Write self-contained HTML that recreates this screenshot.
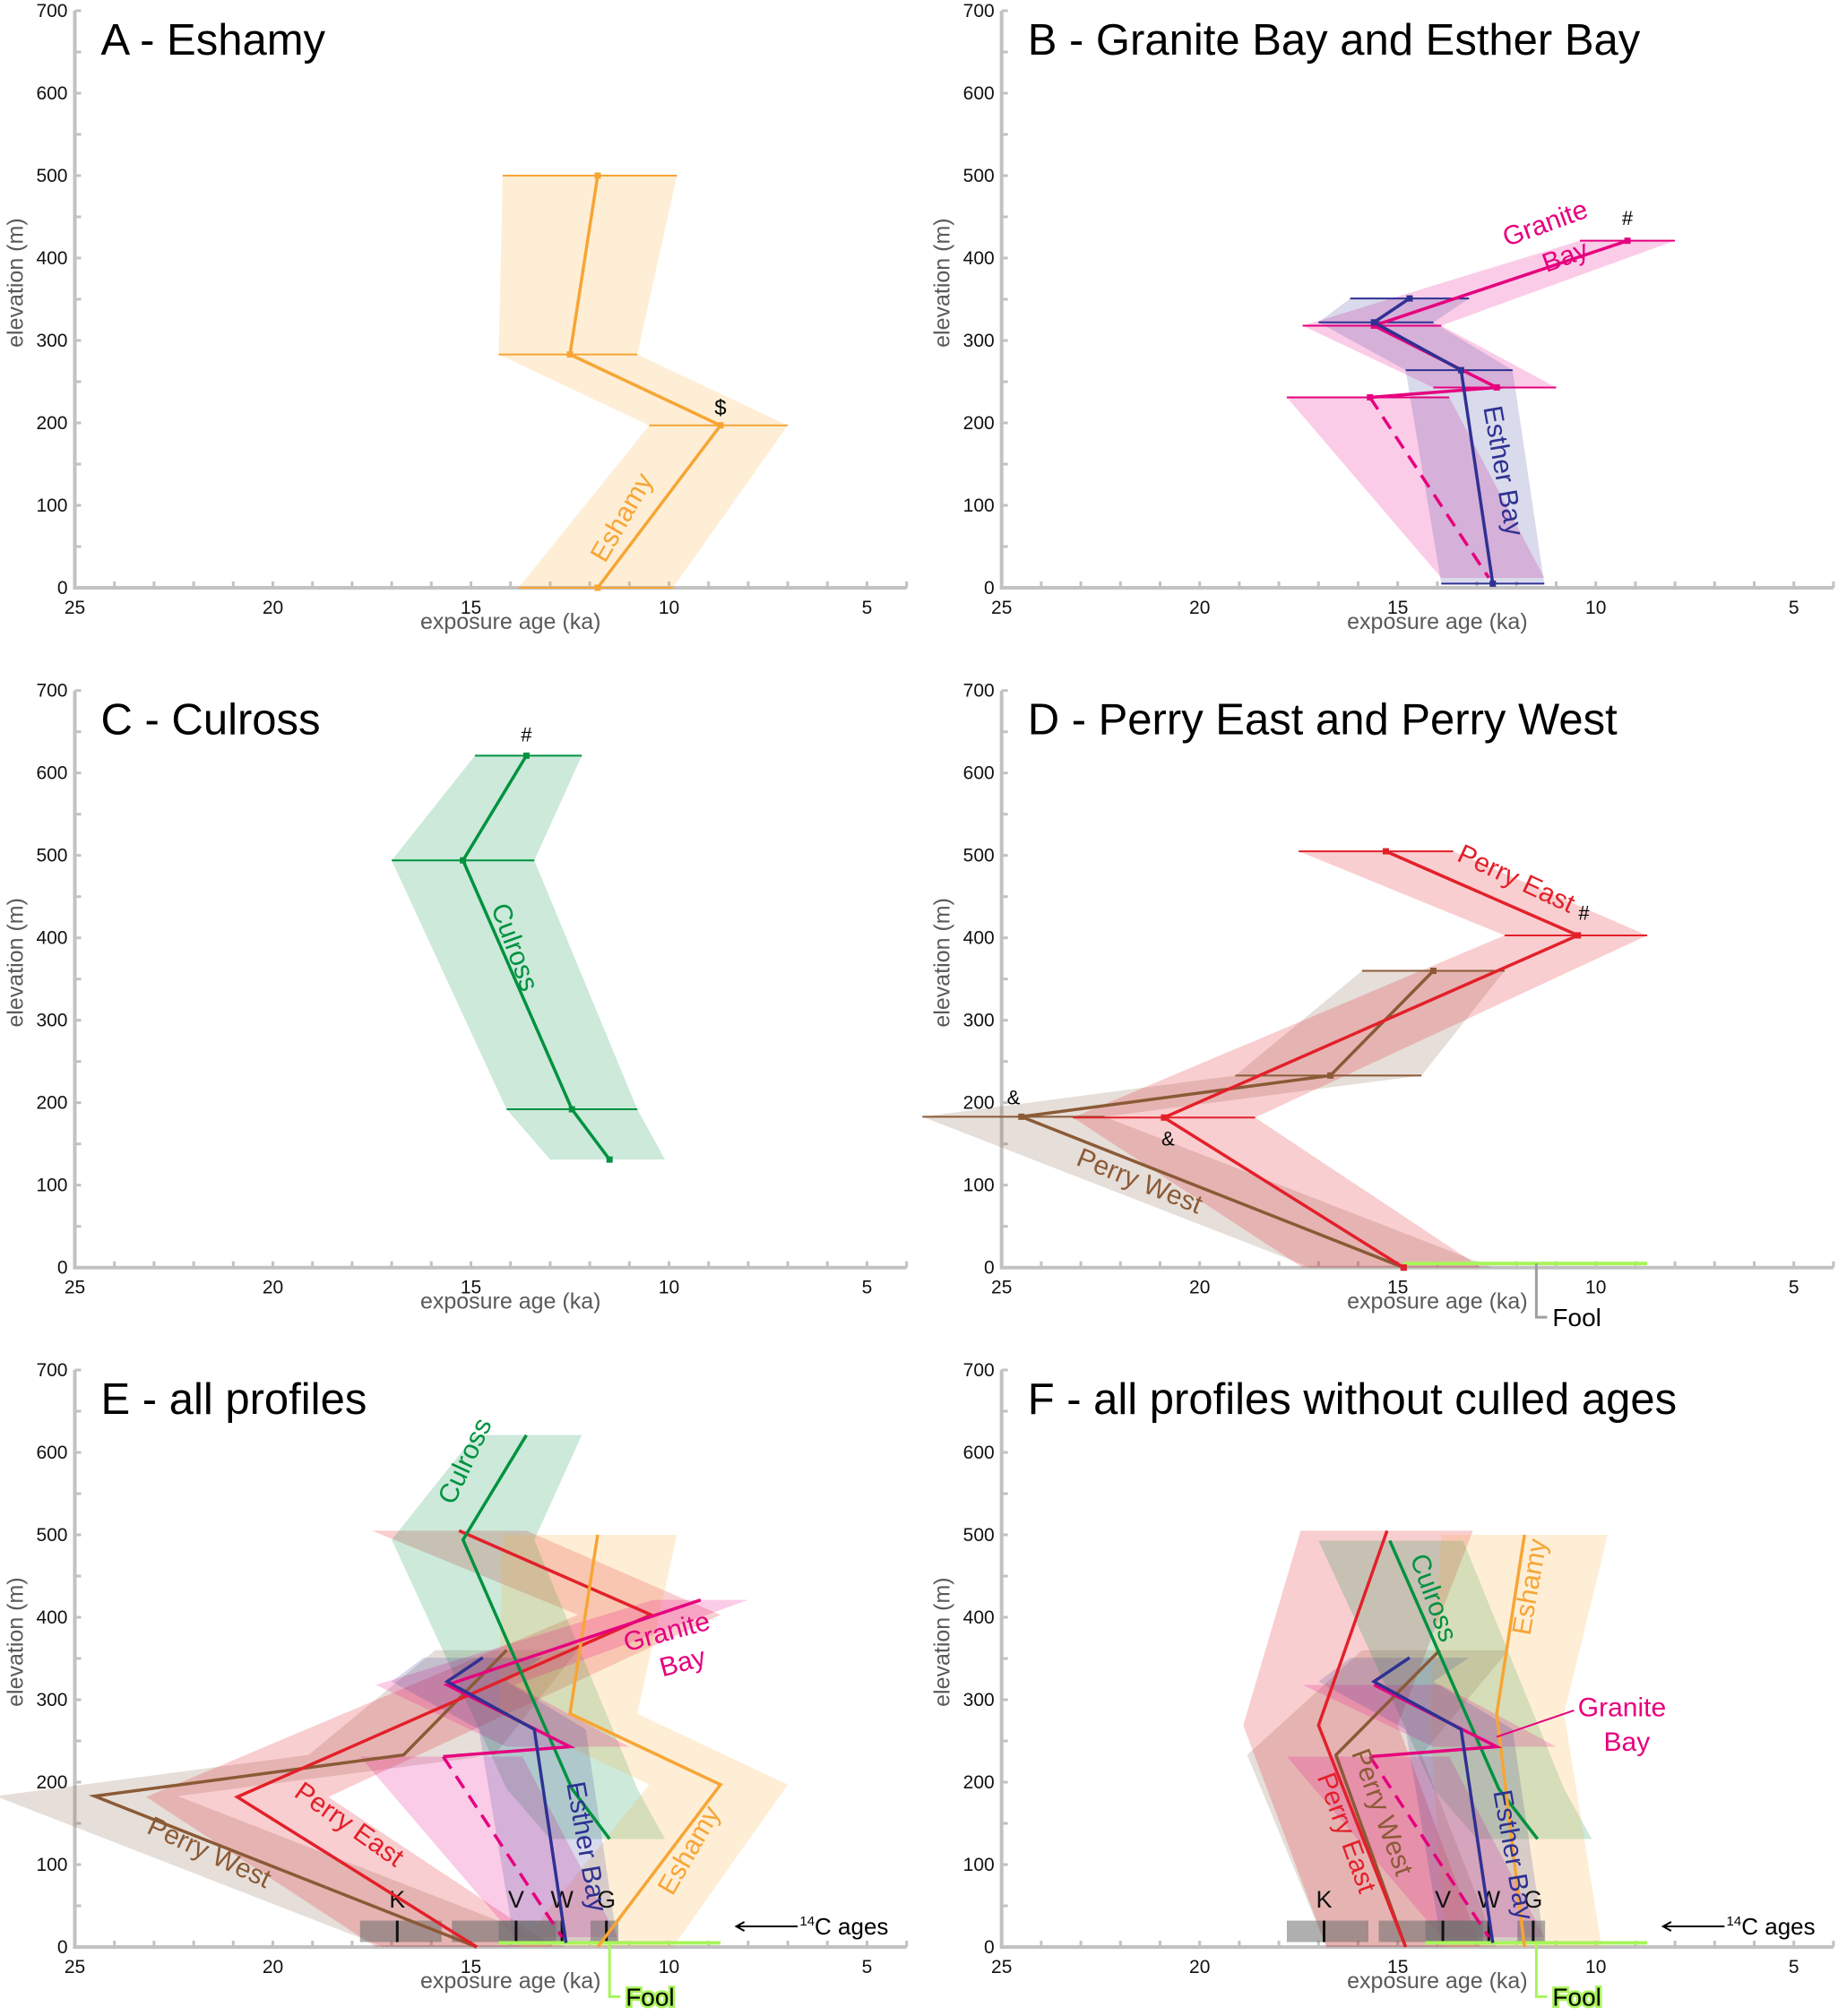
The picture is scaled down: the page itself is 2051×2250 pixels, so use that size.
<!DOCTYPE html>
<html><head><meta charset="utf-8">
<style>
html,body{margin:0;padding:0;background:#fff;}
svg{display:block;font-family:"Liberation Sans",sans-serif;}
</style></head>
<body>
<svg id="chart" width="2051" height="2250" viewBox="0 0 2051 2250" xmlns="http://www.w3.org/2000/svg"></svg>
<script>
// ---- data (age in ka, elevation in m) ----
const ESH_AGE=[11.8,12.5,8.7,11.8];
const ESH_ELEV=[500,283,197,0];
const ESH_LO=[14.2,14.3,10.5,13.8];
const ESH_HI=[9.8,10.8,7.0,9.9];

const GB_AGE=[9.2,15.6,12.5,15.7];
const GB_ELEV=[421,318,243,231];
const GB_LO=[10.4,17.4,14.1,17.8];
const GB_HI=[8.0,13.9,11.0,13.7];
const GBL_AGE=[15.7,12.7];
const GBL_ELEV=[231,12];
const GBL_LO=[17.8,13.9];
const GBL_HI=[13.7,11.3];

const ES_AGE=[14.7,15.6,13.4,12.6];
const ES_ELEV=[351,322,264,5];
const ES_LO=[16.2,17.0,14.8,13.9];
const ES_HI=[13.2,14.1,12.1,11.3];

const CU_AGE=[13.6,15.2,12.45,11.5];
const CU_ELEV=[621,494,192,131];
const CU_LO=[14.9,17.0,14.1,13.0];
const CU_HI=[12.2,13.4,10.8,10.1];

const PE_AGE=[15.3,10.45,20.9,14.85];
const PE_ELEV=[505,403,182,0];
const PE_LO=[17.5,12.3,23.2,17.4];
const PE_HI=[13.6,8.7,18.6,12.9];

const PW_AGE=[14.1,16.7,24.5,14.85];
const PW_ELEV=[360,233,183,0];
const PW_LO=[15.9,19.1,27.0,17.2];
const PW_HI=[12.3,14.4,22.4,12.6];

// culled versions (panel F)
const PEF_AGE=[15.27,17.0,14.8];
const PEF_ELEV=[505,269,0];
const PEF_LO=[17.45,18.9,16.8];
const PEF_HI=[13.1,15.0,12.9];
const PWF_AGE=[13.94,16.56,14.8];
const PWF_ELEV=[360,233,0];
const PWF_LO=[15.9,18.8,16.8];
const PWF_HI=[12.2,14.4,12.5];
const CUF_AGE=[15.2,12.45,11.47];
const CUF_ELEV=[493,192,131];
const CUF_LO=[17.0,14.1,13.0];
const CUF_HI=[13.35,10.8,10.1];
const ESHF_AGE=[11.8,12.5,11.8];
const ESHF_ELEV=[500,283,0];
const ESHF_LO=[13.9,14.2,13.8];
const ESHF_HI=[9.7,10.8,9.85];
const GBF_AGE=[15.6,12.5,15.7];
const GBF_ELEV=[318,243,231];
const GBF_LO=[17.4,14.1,17.8];
const GBF_HI=[13.9,11.0,13.7];

const FOOL_RANGE_D=[14.85,8.7];
const FOOL_RANGE_EF=[14.3,8.7];
const FOOL_AGE=11.5;
const FOOL_ELEV=5;

const C14_LO=[17.8,15.48,14.3,11.98];
const C14_HI=[15.74,12.85,12.7,11.28];
const C14_AGE=[16.86,13.86,12.7,11.58];
const C14_LABELS=['K','V','W','G'];
const C14_ELEV=[6,32];

const X_TICK_LABELS=[25,20,15,10,5];
const Y_TICK_LABELS=[0,100,200,300,400,500,600,700];
const TITLES=['A - Eshamy','B - Granite Bay and Esther Bay','C - Culross','D - Perry East and Perry West','E - all profiles','F - all profiles without culled ages'];

// ---- layout ----
const OX=[83.5,1117.7], OY=[656,1414.7,2173];
const KX=44.2, KY=0.92;
function X(p,a){return OX[p%2]+(25-a)*KX;}
function Y(p,e){return OY[Math.floor(p/2)]-e*KY;}
const svg=document.getElementById('chart');
const NS='http://www.w3.org/2000/svg';
function mk(tag,attrs,parent){const e=document.createElementNS(NS,tag);for(const k in attrs)e.setAttribute(k,attrs[k]);(parent||svg).appendChild(e);return e;}
function txt(p,str,a,e,size,color,rot,anchor,extra){
  const x=X(p,a),y=Y(p,e);
  const t=mk('text',Object.assign({x:x,y:y,'font-size':size,fill:color,'text-anchor':anchor||'middle',transform:rot?`rotate(${rot} ${x} ${y})`:''},extra||{}));
  t.textContent=str;return t;
}

const COL={esh:'#f7a535',gb:'#e6007e',es:'#2e3192',cu:'#00923f',pe:'#e3202a',pw:'#8b5a36',fool:'#a8f55a'};
const FILL={esh:'rgba(249,178,70,0.22)',gb:'rgba(236,0,140,0.2)',es:'rgba(46,49,146,0.18)',cu:'rgba(0,146,69,0.2)',pe:'rgba(227,32,42,0.22)',pw:'rgba(139,105,80,0.22)'};

function drawAxes(p){
  const g=mk('g',{});
  
  
  const ax=mk('path',{d:`M${X(p,25)} ${Y(p,700)} L${X(p,25)} ${Y(p,0)} L${X(p,4)} ${Y(p,0)}`,stroke:'#c2c2c2','stroke-width':4,fill:'none'},g);
  
  
  for(let a=24;a>=4;a--) mk('line',{x1:X(p,a),x2:X(p,a),y1:Y(p,0),y2:Y(p,0)-7,stroke:'#c2c2c2','stroke-width':3},g);
  for(let e=50;e<=700;e+=50) mk('line',{x1:X(p,25),x2:X(p,25)+7,y1:Y(p,e),y2:Y(p,e),stroke:'#c2c2c2','stroke-width':3},g);
  X_TICK_LABELS.forEach(v=>{const t=mk('text',{x:X(p,v),y:Y(p,0)+29,'font-size':21,'text-anchor':'middle',fill:'#111'},g);t.textContent=v;
    
    });
  Y_TICK_LABELS.forEach(v=>{const t=mk('text',{x:X(p,25)-8,y:Y(p,v)+7,'font-size':21,'text-anchor':'end',fill:'#111'},g);t.textContent=v;
    
    });
  const xt=mk('text',{x:X(p,14.0),y:Y(p,0)+46,'font-size':25,'text-anchor':'middle',fill:'#58595b'},g);xt.textContent='exposure age (ka)';
  
  
  const yx=X(p,25)-58,yy=Y(p,370);
  const yt=mk('text',{x:yx,y:yy,'font-size':25,'text-anchor':'middle',fill:'#58595b',transform:`rotate(-90 ${yx} ${yy})`},g);yt.textContent='elevation (m)';
  
  
  const ti=mk('text',{x:X(p,25)+29,y:Y(p,0)-595,'font-size':49,fill:'#000'},g);ti.textContent=TITLES[p];
  
  
}

function band(p,age,elev,lo,hi,fill,name){
  const pts=[];
  for(let i=0;i<elev.length;i++)pts.push(X(p,lo[i])+','+Y(p,elev[i]));
  for(let i=elev.length-1;i>=0;i--)pts.push(X(p,hi[i])+','+Y(p,elev[i]));
  const b=mk('polygon',{points:pts.join(' '),fill:fill,stroke:'none'});
  
  
}
function line(p,age,elev,color,name,dash){
  const d=age.map((a,i)=>(i?'L':'M')+X(p,a)+' '+Y(p,elev[i])).join(' ');
  const l=mk('path',{d:d,stroke:color,'stroke-width':3.5,fill:'none','stroke-linejoin':'miter','stroke-dasharray':dash||''});
  
  
}
function bars(p,age,elev,lo,hi,color,name,idx){
  idx.forEach(i=>{
    const b=mk('line',{x1:X(p,lo[i]),x2:X(p,hi[i]),y1:Y(p,elev[i]),y2:Y(p,elev[i]),stroke:color,'stroke-width':2});
    
    
  });
}
function markers(p,age,elev,color,name){
  age.forEach((a,i)=>{
    const m=mk('rect',{x:X(p,a)-3.5,y:Y(p,elev[i])-3.5,width:7,height:7,fill:color});
    
    
  });
}
function fool(p,range,leaderColor,glow){
  const l=mk('line',{x1:X(p,range[0]),x2:X(p,range[1]),y1:Y(p,FOOL_ELEV),y2:Y(p,FOOL_ELEV),stroke:COL.fool,'stroke-width':4});
  
  
  const x=X(p,FOOL_AGE),y0=Y(p,FOOL_ELEV);
  const ld=mk('path',{d:`M${x} ${y0} L${x} ${y0+60} L${x+12} ${y0+60}`,stroke:leaderColor,'stroke-width':3,fill:'none'});
  
  
  const t=mk('text',{x:x+18,y:y0+70,'font-size':28,fill:'#000'});
  if(glow){t.setAttribute('stroke',COL.fool);t.setAttribute('stroke-width',5);t.setAttribute('paint-order','stroke');}
  t.textContent='Fool';
  
  
}
function c14(p){
  C14_LO.forEach((lo,i)=>{
    const r=mk('rect',{x:X(p,lo),y:Y(p,C14_ELEV[1]),width:X(p,C14_HI[i])-X(p,lo),height:(C14_ELEV[1]-C14_ELEV[0])*KY,fill:'rgba(110,110,110,0.55)'});
    
    
  });
  C14_AGE.forEach((a,i)=>{
    const t=mk('line',{x1:X(p,a),x2:X(p,a),y1:Y(p,C14_ELEV[1]),y2:Y(p,C14_ELEV[0]),stroke:'#111','stroke-width':3});
    
    
    const l=txt(p,C14_LABELS[i],a,48,27,'#111',0);
    
    
  });
  const ar=mk('path',{d:`M${X(p,6.75)} ${Y(p,25)} L${X(p,8.3)} ${Y(p,25)} M${X(p,8.3)+9} ${Y(p,25)-5} L${X(p,8.3)} ${Y(p,25)} L${X(p,8.3)+9} ${Y(p,25)+5}`,stroke:'#000','stroke-width':2,fill:'none'});
  
  
  const t=mk('text',{x:X(p,6.7),y:Y(p,25)+9,'font-size':26,fill:'#000'});
  t.innerHTML='<tspan font-size="15" dy="-10">14</tspan><tspan dy="10">C ages</tspan>';
  
  
}
function lab(p,str,a,e,color,rot,name,size){
  const t=txt(p,str,a,e,size||30,color,rot);
  
  
}

for(let p=0;p<6;p++)drawAxes(p);

// ---- Panel A ----
band(0,ESH_AGE,ESH_ELEV,ESH_LO,ESH_HI,FILL.esh,'eshamy');
bars(0,ESH_AGE,ESH_ELEV,ESH_LO,ESH_HI,COL.esh,'eshamy',[0,1,2,3]);
line(0,ESH_AGE,ESH_ELEV,COL.esh,'eshamy');
markers(0,ESH_AGE,ESH_ELEV,COL.esh,'eshamy');
lab(0,'$',8.7,210,'#000',0,'outlier-symbol',24);
lab(0,'Eshamy',11.0,80,COL.esh,-60,'eshamy-label');

// ---- Panel B ----
band(1,GB_AGE.slice(0,3),GB_ELEV.slice(0,3),GB_LO.slice(0,3),GB_HI.slice(0,3),FILL.gb,'granite-bay');
band(1,GBL_AGE,GBL_ELEV,GBL_LO,GBL_HI,FILL.gb,'granite-bay-lower');
band(1,ES_AGE,ES_ELEV,ES_LO,ES_HI,FILL.es,'esther-bay');
bars(1,GB_AGE,GB_ELEV,GB_LO,GB_HI,COL.gb,'granite-bay',[0,1,2,3]);
bars(1,ES_AGE,ES_ELEV,ES_LO,ES_HI,COL.es,'esther-bay',[0,1,2,3]);
line(1,GB_AGE,GB_ELEV,COL.gb,'granite-bay');
line(1,GBL_AGE,GBL_ELEV,COL.gb,'granite-bay-extrapolated','16 10');
line(1,ES_AGE,ES_ELEV,COL.es,'esther-bay');
markers(1,GB_AGE,GB_ELEV,COL.gb,'granite-bay');
markers(1,ES_AGE,ES_ELEV,COL.es,'esther-bay');
lab(1,'#',9.2,440,'#000',0,'outlier-symbol',22);
lab(1,'Granite',11.2,432,COL.gb,-20,'granite-bay-label');
lab(1,'Bay',10.7,392,COL.gb,-20,'granite-bay-label');
lab(1,'Esther Bay',12.55,140,COL.es,80,'esther-bay-label');

// ---- Panel C ----
band(2,CU_AGE,CU_ELEV,CU_LO,CU_HI,FILL.cu,'culross');
bars(2,CU_AGE,CU_ELEV,CU_LO,CU_HI,COL.cu,'culross',[0,1,2]);
line(2,CU_AGE,CU_ELEV,COL.cu,'culross');
markers(2,CU_AGE,CU_ELEV,COL.cu,'culross');
lab(2,'#',13.6,638,'#000',0,'outlier-symbol',22);
lab(2,'Culross',14.1,385,COL.cu,70,'culross-label');

// ---- Panel D ----
band(3,PW_AGE,PW_ELEV,PW_LO,PW_HI,FILL.pw,'perry-west');
band(3,PE_AGE,PE_ELEV,PE_LO,PE_HI,FILL.pe,'perry-east');
bars(3,PW_AGE,PW_ELEV,PW_LO,PW_HI,COL.pw,'perry-west',[0,1,2]);
bars(3,PE_AGE,PE_ELEV,PE_LO,PE_HI,COL.pe,'perry-east',[0,1,2]);
fool(3,FOOL_RANGE_D,'#a0a0a0',false);
line(3,PW_AGE,PW_ELEV,COL.pw,'perry-west');
line(3,PE_AGE,PE_ELEV,COL.pe,'perry-east');
markers(3,PW_AGE,PW_ELEV,COL.pw,'perry-west');
markers(3,PE_AGE,PE_ELEV,COL.pe,'perry-east');
lab(3,'#',10.3,422,'#000',0,'outlier-symbol',22);
lab(3,'&',24.7,198,'#000',0,'outlier-symbol',22);
lab(3,'&',20.8,148,'#000',0,'outlier-symbol',22);
lab(3,'Perry East',12.1,462,COL.pe,25,'perry-east-label');
lab(3,'Perry West',21.6,95,COL.pw,22,'perry-west-label');

// ---- Panel E ----
band(4,PW_AGE,PW_ELEV,PW_LO,PW_HI,FILL.pw,'perry-west');
band(4,PE_AGE,PE_ELEV,PE_LO,PE_HI,FILL.pe,'perry-east');
band(4,CU_AGE,CU_ELEV,CU_LO,CU_HI,FILL.cu,'culross');
band(4,ESH_AGE,ESH_ELEV,ESH_LO,ESH_HI,FILL.esh,'eshamy');
band(4,GB_AGE.slice(0,3),GB_ELEV.slice(0,3),GB_LO.slice(0,3),GB_HI.slice(0,3),FILL.gb,'granite-bay');
band(4,GBL_AGE,GBL_ELEV,GBL_LO,GBL_HI,FILL.gb,'granite-bay-lower');
band(4,ES_AGE,ES_ELEV,ES_LO,ES_HI,FILL.es,'esther-bay');
c14(4);
fool(4,FOOL_RANGE_EF,COL.fool,true);
line(4,PW_AGE,PW_ELEV,COL.pw,'perry-west');
line(4,PE_AGE,PE_ELEV,COL.pe,'perry-east');
line(4,CU_AGE,CU_ELEV,COL.cu,'culross');
line(4,ESH_AGE,ESH_ELEV,COL.esh,'eshamy');
line(4,GB_AGE,GB_ELEV,COL.gb,'granite-bay');
line(4,GBL_AGE,GBL_ELEV,COL.gb,'granite-bay-extrapolated','16 10');
line(4,ES_AGE,ES_ELEV,COL.es,'esther-bay');
lab(4,'Culross',14.95,585,COL.cu,-65,'culross-label');
lab(4,'Granite',10.0,372,COL.gb,-15,'granite-bay-label');
lab(4,'Bay',9.6,335,COL.gb,-15,'granite-bay-label');
lab(4,'Perry East',18.2,140,COL.pe,35,'perry-east-label');
lab(4,'Perry West',21.7,105,COL.pw,25,'perry-west-label');
lab(4,'Esther Bay',12.3,120,COL.es,80,'esther-bay-label');
lab(4,'Eshamy',9.3,112,COL.esh,-60,'eshamy-label');

// ---- Panel F ----
band(5,PWF_AGE,PWF_ELEV,PWF_LO,PWF_HI,FILL.pw,'perry-west');
band(5,PEF_AGE,PEF_ELEV,PEF_LO,PEF_HI,FILL.pe,'perry-east');
band(5,CUF_AGE,CUF_ELEV,CUF_LO,CUF_HI,FILL.cu,'culross');
band(5,ESHF_AGE,ESHF_ELEV,ESHF_LO,ESHF_HI,FILL.esh,'eshamy');
band(5,GBF_AGE.slice(0,2),GBF_ELEV.slice(0,2),GBF_LO.slice(0,2),GBF_HI.slice(0,2),FILL.gb,'granite-bay');
band(5,GBL_AGE,GBL_ELEV,GBL_LO,GBL_HI,FILL.gb,'granite-bay-lower');
band(5,ES_AGE,ES_ELEV,ES_LO,ES_HI,FILL.es,'esther-bay');
c14(5);
fool(5,FOOL_RANGE_EF,COL.fool,true);
line(5,PWF_AGE,PWF_ELEV,COL.pw,'perry-west');
line(5,PEF_AGE,PEF_ELEV,COL.pe,'perry-east');
line(5,CUF_AGE,CUF_ELEV,COL.cu,'culross');
line(5,ESHF_AGE,ESHF_ELEV,COL.esh,'eshamy');
line(5,GBF_AGE,GBF_ELEV,COL.gb,'granite-bay');
line(5,GBL_AGE,GBL_ELEV,COL.gb,'granite-bay-extrapolated','16 10');
line(5,ES_AGE,ES_ELEV,COL.es,'esther-bay');
lab(5,'Culross',14.3,420,COL.cu,70,'culross-label');
lab(5,'Eshamy',11.45,435,COL.esh,-80,'eshamy-label');
lab(5,'Perry East',16.5,135,COL.pe,70,'perry-east-label');
lab(5,'Perry West',15.6,160,COL.pw,70,'perry-west-label');
lab(5,'Esther Bay',12.3,110,COL.es,80,'esther-bay-label');
const gl=mk('line',{x1:X(5,12.5),y1:Y(5,255),x2:X(5,10.55),y2:Y(5,287),stroke:COL.gb,'stroke-width':2});


const g1=mk('text',{x:X(5,10.45),y:Y(5,280),'font-size':30,fill:COL.gb});g1.textContent='Granite';


const g2=mk('text',{x:X(5,9.8),y:Y(5,238),'font-size':30,fill:COL.gb});g2.textContent='Bay';


</script>
</body></html>
